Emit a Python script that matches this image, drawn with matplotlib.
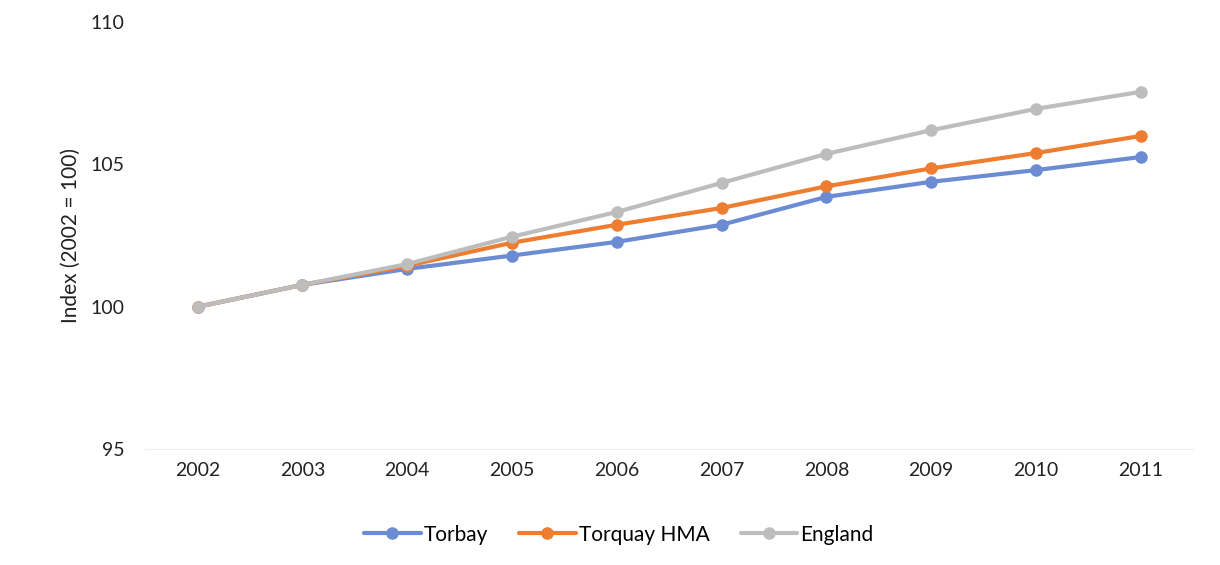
import matplotlib
matplotlib.use("Agg")
import matplotlib.pyplot as plt

years = ["2002", "2003", "2004", "2005", "2006", "2007", "2008", "2009", "2010", "2011"]
torbay = [100.0, 100.77, 101.33, 101.8, 102.28, 102.88, 103.86, 104.39, 104.8, 105.26]
torquay_hma = [100.0, 100.77, 101.44, 102.25, 102.88, 103.47, 104.23, 104.86, 105.4, 106.0]
england = [100.0, 100.77, 101.5, 102.46, 103.33, 104.35, 105.37, 106.2, 106.95, 107.55]

plt.rcParams["font.family"] = ["Lato", "DejaVu Sans"]

fig = plt.figure(figsize=(12.2, 5.65), dpi=100)
ax = fig.add_axes([0.119, 0.205, 0.859, 0.756])

x = list(range(len(years)))
series = [
    ("Torbay", torbay, "#6b8bd3"),
    ("Torquay HMA", torquay_hma, "#ed7d31"),
    ("England", england, "#bdbdbd"),
]
for name, vals, col in series:
    ax.plot(x, vals, color=col, lw=3, marker="o", ms=8, mfc=col, mec=col,
            label=name, solid_capstyle="round")

ax.set_xlim(-0.5, len(years) - 0.5)
ax.set_ylim(95, 110)
ax.set_yticks([95, 100, 105, 110])
ax.set_xticks(x)
ax.set_xticklabels(years)
ax.tick_params(axis="both", length=0, labelsize=14, colors="#222222")
ax.tick_params(axis="x", pad=9)
ax.tick_params(axis="y", pad=15)
for s in ["top", "right", "left"]:
    ax.spines[s].set_visible(False)
ax.spines["bottom"].set_color("#eeeeee")
ax.set_ylabel("Index (2002 = 100)", fontsize=15, color="#222222", labelpad=7)

ax.legend(loc="center", bbox_to_anchor=(0.452, -0.2), ncol=3, frameon=False,
          fontsize=15, handlelength=2.7, columnspacing=1.5, handletextpad=0.15)

fig.savefig("out.png", dpi=100, facecolor="white")
